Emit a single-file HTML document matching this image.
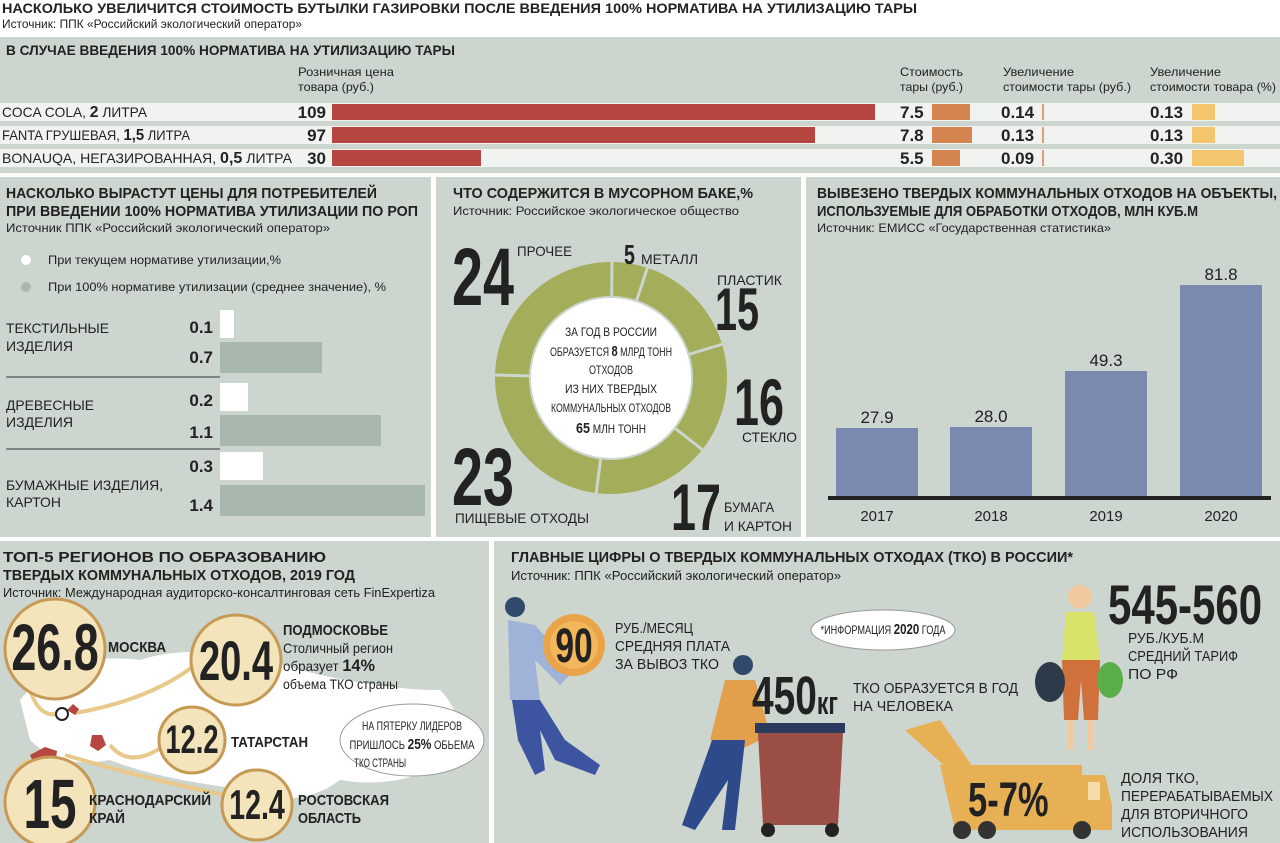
<!DOCTYPE html>
<html><head><meta charset="utf-8"><style>
html,body{margin:0;padding:0;background:#fff}
svg{display:block}
text{font-family:"Liberation Sans",sans-serif;fill:#222}
.b{font-weight:bold}
</style></head><body>
<svg width="1280" height="843" viewBox="0 0 1280 843" xmlns="http://www.w3.org/2000/svg">
<rect width="1280" height="843" fill="#fff"/>
<text x="2" y="13" class="b" font-size="14" textLength="915" lengthAdjust="spacingAndGlyphs">НАСКОЛЬКО УВЕЛИЧИТСЯ СТОИМОСТЬ БУТЫЛКИ ГАЗИРОВКИ ПОСЛЕ ВВЕДЕНИЯ 100% НОРМАТИВА НА УТИЛИЗАЦИЮ ТАРЫ</text>
<text x="2" y="28" font-size="12" fill="#333" textLength="300" lengthAdjust="spacingAndGlyphs">Источник: ППК «Российский экологический оператор»</text>
<rect x="0" y="37" width="1280" height="136" fill="#ccd5ce"/>
<rect x="0" y="177" width="431" height="360" fill="#ccd5ce"/>
<rect x="436" y="177" width="365" height="360" fill="#ccd5ce"/>
<rect x="806" y="177" width="474" height="360" fill="#ccd5ce"/>
<rect x="0" y="541" width="489" height="302" fill="#ccd5ce"/>
<rect x="494" y="541" width="786" height="302" fill="#ccd5ce"/>
<text x="6" y="55" class="b" font-size="14" textLength="449" lengthAdjust="spacingAndGlyphs">В СЛУЧАЕ ВВЕДЕНИЯ 100% НОРМАТИВА НА УТИЛИЗАЦИЮ ТАРЫ</text>
<g font-size="12" fill="#444">
<text x="298" y="76" textLength="96" lengthAdjust="spacingAndGlyphs">Розничная цена</text>
<text x="298" y="91" textLength="76" lengthAdjust="spacingAndGlyphs">товара (руб.)</text>
<text x="900" y="76" textLength="63" lengthAdjust="spacingAndGlyphs">Стоимость</text>
<text x="900" y="91" textLength="63" lengthAdjust="spacingAndGlyphs">тары (руб.)</text>
<text x="1003" y="76" textLength="71" lengthAdjust="spacingAndGlyphs">Увеличение</text>
<text x="1003" y="91" textLength="128" lengthAdjust="spacingAndGlyphs">стоимости тары (руб.)</text>
<text x="1150" y="76" textLength="71" lengthAdjust="spacingAndGlyphs">Увеличение</text>
<text x="1150" y="91" textLength="126" lengthAdjust="spacingAndGlyphs">стоимости товара (%)</text></g>
<rect x="0" y="103" width="1280" height="18" fill="#f1f3f1"/>
<rect x="0" y="126" width="1280" height="18" fill="#f1f3f1"/>
<rect x="0" y="149" width="1280" height="18" fill="#f1f3f1"/>
<text x="2" y="117" font-size="14" textLength="145" lengthAdjust="spacingAndGlyphs">COCA COLA, <tspan class="b" font-size="16">2</tspan> ЛИТРА</text>
<text x="2" y="140" font-size="14" textLength="188" lengthAdjust="spacingAndGlyphs">FANTA ГРУШЕВАЯ, <tspan class="b" font-size="16">1,5</tspan> ЛИТРА</text>
<text x="2" y="163" font-size="14" textLength="290" lengthAdjust="spacingAndGlyphs">BONAUQA, НЕГАЗИРОВАННАЯ, <tspan class="b" font-size="16">0,5</tspan> ЛИТРА</text>
<g font-size="17" class="b" text-anchor="end"><text x="326" y="118">109</text><text x="326" y="141">97</text><text x="326" y="164">30</text></g>
<rect x="332" y="104" width="543" height="16" fill="#b6463f"/>
<rect x="332" y="127" width="483" height="16" fill="#b6463f"/>
<rect x="332" y="150" width="149" height="16" fill="#b6463f"/>
<g font-size="17" class="b"><text x="900" y="118">7.5</text><text x="900" y="141">7.8</text><text x="900" y="164">5.5</text>
<text x="1001" y="118">0.14</text><text x="1001" y="141">0.13</text><text x="1001" y="164">0.09</text>
<text x="1150" y="118">0.13</text><text x="1150" y="141">0.13</text><text x="1150" y="164">0.30</text></g>
<rect x="932" y="104" width="38" height="16" fill="#d4844e"/><rect x="932" y="127" width="40" height="16" fill="#d4844e"/><rect x="932" y="150" width="28" height="16" fill="#d4844e"/>
<g stroke="#d4844e" stroke-width="1.5"><line x1="1043" y1="104" x2="1043" y2="120"/><line x1="1043" y1="127" x2="1043" y2="143"/><line x1="1043" y1="150" x2="1043" y2="166"/></g>
<rect x="1192" y="104" width="23" height="16" fill="#f3c66e"/><rect x="1192" y="127" width="23" height="16" fill="#f3c66e"/><rect x="1192" y="150" width="52" height="16" fill="#f3c66e"/>
<text x="6" y="198" class="b" font-size="15" textLength="371" lengthAdjust="spacingAndGlyphs">НАСКОЛЬКО ВЫРАСТУТ ЦЕНЫ ДЛЯ ПОТРЕБИТЕЛЕЙ</text>
<text x="6" y="216" class="b" font-size="15" textLength="412" lengthAdjust="spacingAndGlyphs">ПРИ ВВЕДЕНИИ 100% НОРМАТИВА УТИЛИЗАЦИИ ПО РОП</text>
<text x="6" y="232" font-size="12" fill="#444" textLength="324" lengthAdjust="spacingAndGlyphs">Источник ППК «Российский экологический оператор»</text>
<circle cx="26" cy="260" r="5" fill="#fff"/><text x="48" y="264" font-size="12" fill="#333" textLength="233" lengthAdjust="spacingAndGlyphs">При текущем нормативе утилизации,%</text>
<circle cx="26" cy="287" r="5" fill="#a9b8ae"/><text x="48" y="291" font-size="12" fill="#333" textLength="338" lengthAdjust="spacingAndGlyphs">При 100% нормативе утилизации (среднее значение), %</text>
<g font-size="14" fill="#333"><text x="6" y="333" textLength="103" lengthAdjust="spacingAndGlyphs">ТЕКСТИЛЬНЫЕ</text><text x="6" y="351" textLength="67" lengthAdjust="spacingAndGlyphs">ИЗДЕЛИЯ</text>
<text x="6" y="410" textLength="88" lengthAdjust="spacingAndGlyphs">ДРЕВЕСНЫЕ</text><text x="6" y="427" textLength="67" lengthAdjust="spacingAndGlyphs">ИЗДЕЛИЯ</text>
<text x="6" y="490" textLength="157" lengthAdjust="spacingAndGlyphs">БУМАЖНЫЕ ИЗДЕЛИЯ,</text><text x="6" y="507" textLength="55" lengthAdjust="spacingAndGlyphs">КАРТОН</text></g>
<g font-size="17" class="b" text-anchor="end"><text x="213" y="333">0.1</text><text x="213" y="363">0.7</text><text x="213" y="406">0.2</text><text x="213" y="438">1.1</text><text x="213" y="472">0.3</text><text x="213" y="511">1.4</text></g>
<rect x="220" y="310" width="14" height="28" fill="#fff"/><rect x="220" y="342" width="102" height="31" fill="#a9b8ae"/>
<rect x="220" y="383" width="28" height="28" fill="#fff"/><rect x="220" y="415" width="161" height="31" fill="#a9b8ae"/>
<rect x="220" y="452" width="43" height="28" fill="#fff"/><rect x="220" y="485" width="205" height="31" fill="#a9b8ae"/>
<g stroke="#333" stroke-width="1"><line x1="6" y1="377" x2="220" y2="377"/><line x1="6" y1="449" x2="220" y2="449"/></g>
<text x="453" y="198" class="b" font-size="15" textLength="300" lengthAdjust="spacingAndGlyphs">ЧТО СОДЕРЖИТСЯ В МУСОРНОМ БАКЕ,%</text>
<text x="453" y="215" font-size="12" fill="#444" textLength="286" lengthAdjust="spacingAndGlyphs">Источник: Российское экологическое общество</text>
<circle cx="611" cy="378" r="99" fill="none" stroke="#a3ad5a" stroke-width="34"/>
<g stroke="#ccd5ce" stroke-width="3">
<line x1="611" y1="378" x2="612" y2="260"/>
<line x1="611" y1="378" x2="648" y2="266"/>
<line x1="611" y1="378" x2="723" y2="344"/>
<line x1="611" y1="378" x2="704" y2="451"/>
<line x1="611" y1="378" x2="596" y2="495"/>
<line x1="611" y1="378" x2="495" y2="375"/>
</g>
<circle cx="611" cy="378" r="82" fill="#ccd5ce"/>
<circle cx="611" cy="378" r="80" fill="#fff"/>
<g font-size="12" text-anchor="middle"><text x="611" y="336" textLength="92" lengthAdjust="spacingAndGlyphs">ЗА ГОД В РОССИИ</text><text x="611" y="356" textLength="122" lengthAdjust="spacingAndGlyphs">ОБРАЗУЕТСЯ <tspan class="b" font-size="15">8</tspan> МЛРД ТОНН</text><text x="611" y="374" textLength="44" lengthAdjust="spacingAndGlyphs">ОТХОДОВ</text><text x="611" y="393" textLength="92" lengthAdjust="spacingAndGlyphs">ИЗ НИХ ТВЕРДЫХ</text><text x="611" y="412" textLength="120" lengthAdjust="spacingAndGlyphs">КОММУНАЛЬНЫХ ОТХОДОВ</text><text x="611" y="433" textLength="70" lengthAdjust="spacingAndGlyphs"><tspan class="b" font-size="15">65</tspan> МЛН ТОНН</text></g>
<g class="b">
<text transform="translate(452 305) scale(.68 1)" font-size="82">24</text>
<text transform="translate(715 330) scale(.66 1)" font-size="60">15</text>
<text transform="translate(734 425) scale(.68 1)" font-size="66">16</text>
<text transform="translate(452 505) scale(.68 1)" font-size="82">23</text>
<text transform="translate(671 530) scale(.68 1)" font-size="66">17</text></g>
<text transform="translate(624 264) scale(.7 1)" class="b" font-size="28">5</text>
<g font-size="14" fill="#333"><text x="517" y="256" textLength="55" lengthAdjust="spacingAndGlyphs">ПРОЧЕЕ</text><text x="641" y="264" textLength="57" lengthAdjust="spacingAndGlyphs">МЕТАЛЛ</text><text x="717" y="285" textLength="65" lengthAdjust="spacingAndGlyphs">ПЛАСТИК</text><text x="742" y="442" textLength="55" lengthAdjust="spacingAndGlyphs">СТЕКЛО</text><text x="455" y="523" textLength="134" lengthAdjust="spacingAndGlyphs">ПИЩЕВЫЕ ОТХОДЫ</text><text x="724" y="512" textLength="50" lengthAdjust="spacingAndGlyphs">БУМАГА</text><text x="724" y="531" textLength="68" lengthAdjust="spacingAndGlyphs">И КАРТОН</text></g>
<text x="817" y="198" class="b" font-size="15" textLength="460" lengthAdjust="spacingAndGlyphs">ВЫВЕЗЕНО ТВЕРДЫХ КОММУНАЛЬНЫХ ОТХОДОВ НА ОБЪЕКТЫ,</text>
<text x="817" y="216" class="b" font-size="15" textLength="381" lengthAdjust="spacingAndGlyphs">ИСПОЛЬЗУЕМЫЕ ДЛЯ ОБРАБОТКИ ОТХОДОВ, МЛН КУБ.М</text>
<text x="817" y="232" font-size="12" fill="#444" textLength="294" lengthAdjust="spacingAndGlyphs">Источник: ЕМИСС «Государственная статистика»</text>
<g fill="#7989b0"><rect x="836" y="428" width="82" height="70"/><rect x="950" y="427" width="82" height="71"/><rect x="1065" y="371" width="82" height="127"/><rect x="1180" y="285" width="82" height="213"/></g>
<rect x="828" y="496" width="443" height="4" fill="#222"/>
<g font-size="17" text-anchor="middle"><text x="877" y="423">27.9</text><text x="991" y="422">28.0</text><text x="1106" y="366">49.3</text><text x="1221" y="280">81.8</text>
<text x="877" y="521" font-size="15">2017</text><text x="991" y="521" font-size="15">2018</text><text x="1106" y="521" font-size="15">2019</text><text x="1221" y="521" font-size="15">2020</text></g>
<text x="3" y="562" class="b" font-size="15" textLength="323" lengthAdjust="spacingAndGlyphs">ТОП-5 РЕГИОНОВ ПО ОБРАЗОВАНИЮ</text>
<text x="3" y="580" class="b" font-size="15" textLength="352" lengthAdjust="spacingAndGlyphs">ТВЕРДЫХ КОММУНАЛЬНЫХ ОТХОДОВ, 2019 ГОД</text>
<text x="3" y="597" font-size="13" fill="#444" textLength="432" lengthAdjust="spacingAndGlyphs">Источник: Международная аудиторско-консалтинговая сеть FinExpertiza</text>
<path d="M20 700 Q60 650 140 660 Q200 640 300 670 Q380 690 440 690 Q470 720 450 760 Q400 790 340 780 Q300 810 250 790 Q160 780 110 760 Q60 770 30 740 Z" fill="#fff"/>
<g fill="none" stroke="#e8c98a" stroke-width="4"><path d="M30 690 Q40 720 60 713"/><path d="M75 713 Q150 700 195 665"/><path d="M110 745 Q130 770 165 745"/><path d="M30 760 Q10 770 15 790"/><path d="M65 755 Q150 780 225 795"/></g>
<path d="M30 755 l15 -8 l12 4 l-2 15 l-18 5 z M92 735 l10 0 l4 10 l-8 6 l-8 -5 z M67 710 l6 -6 l6 5 l-4 6 z" fill="#b6463f"/>
<circle cx="62" cy="714" r="6" fill="#fff" stroke="#222" stroke-width="2"/>
<g fill="#f4e4bb" stroke="#c69a55" stroke-width="3"><circle cx="55" cy="649" r="50"/><circle cx="236" cy="660" r="45"/><circle cx="192" cy="740" r="33"/><circle cx="50" cy="802" r="45"/><circle cx="257" cy="805" r="35"/></g>
<g class="b" fill="#222">
<text transform="translate(55 670) scale(.68 1)" font-size="66" text-anchor="middle">26.8</text>
<text transform="translate(236 680) scale(.68 1)" font-size="56" text-anchor="middle">20.4</text>
<text transform="translate(192 753) scale(.68 1)" font-size="40" text-anchor="middle">12.2</text>
<text transform="translate(50 828) scale(.68 1)" font-size="70" text-anchor="middle">15</text>
<text transform="translate(257 819) scale(.68 1)" font-size="42" text-anchor="middle">12.4</text></g>
<g class="b" font-size="15"><text x="108" y="652" textLength="58" lengthAdjust="spacingAndGlyphs">МОСКВА</text><text x="283" y="635" textLength="105" lengthAdjust="spacingAndGlyphs">ПОДМОСКОВЬЕ</text><text x="231" y="747" textLength="77" lengthAdjust="spacingAndGlyphs">ТАТАРСТАН</text><text x="89" y="805" textLength="122" lengthAdjust="spacingAndGlyphs">КРАСНОДАРСКИЙ</text><text x="89" y="823" textLength="36" lengthAdjust="spacingAndGlyphs">КРАЙ</text><text x="298" y="805" textLength="91" lengthAdjust="spacingAndGlyphs">РОСТОВСКАЯ</text><text x="298" y="823" textLength="63" lengthAdjust="spacingAndGlyphs">ОБЛАСТЬ</text></g>
<g font-size="14" fill="#333"><text x="283" y="653" textLength="110" lengthAdjust="spacingAndGlyphs">Столичный регион</text><text x="283" y="671" textLength="92" lengthAdjust="spacingAndGlyphs">образует <tspan class="b" font-size="17" fill="#222">14%</tspan></text><text x="283" y="689" textLength="115" lengthAdjust="spacingAndGlyphs">объема ТКО страны</text></g>
<ellipse cx="412" cy="740" rx="72" ry="36" fill="#fff" stroke="#999"/>
<g font-size="12" text-anchor="middle"><text x="412" y="730" textLength="100" lengthAdjust="spacingAndGlyphs">НА ПЯТЕРКУ ЛИДЕРОВ</text><text x="412" y="749" textLength="125" lengthAdjust="spacingAndGlyphs">ПРИШЛОСЬ <tspan class="b" font-size="15">25%</tspan> ОБЬЕМА</text><text x="380" y="767" textLength="52" lengthAdjust="spacingAndGlyphs">ТКО СТРАНЫ</text></g>
<text x="511" y="562" class="b" font-size="15" textLength="562" lengthAdjust="spacingAndGlyphs">ГЛАВНЫЕ ЦИФРЫ О ТВЕРДЫХ КОММУНАЛЬНЫХ ОТХОДАХ (ТКО) В РОССИИ*</text>
<text x="511" y="580" font-size="13" fill="#444" textLength="330" lengthAdjust="spacingAndGlyphs">Источник: ППК «Российский экологический оператор»</text>
<circle cx="515" cy="607" r="10" fill="#2f4a6a"/>
<path d="M508 620 L535 625 L575 670 L560 685 L535 660 L540 700 L510 700 Z" fill="#9fb3d8"/>
<path d="M512 700 L540 700 L565 740 L600 765 L595 775 L555 760 L540 730 L545 770 L535 775 L518 740 Z" fill="#3d55a0"/>
<circle cx="574" cy="645" r="31" fill="#e9a44a"/><circle cx="574" cy="645" r="24" fill="#f2b75a"/>
<text transform="translate(574 662) scale(.7 1)" class="b" font-size="48" text-anchor="middle" fill="#fff">90</text>
<g font-size="15" fill="#333"><text x="615" y="633" textLength="78" lengthAdjust="spacingAndGlyphs">РУБ./МЕСЯЦ</text><text x="615" y="651" textLength="115" lengthAdjust="spacingAndGlyphs">СРЕДНЯЯ ПЛАТА</text><text x="615" y="669" textLength="104" lengthAdjust="spacingAndGlyphs">ЗА ВЫВОЗ ТКО</text></g>
<ellipse cx="883" cy="630" rx="72" ry="20" fill="#fff" stroke="#999"/>
<text x="883" y="634" font-size="12" text-anchor="middle" textLength="125" lengthAdjust="spacingAndGlyphs">*ИНФОРМАЦИЯ <tspan class="b" font-size="15">2020</tspan> ГОДА</text>
<circle cx="743" cy="665" r="10" fill="#2f4a6a"/>
<path d="M725 680 L755 680 L770 735 L740 750 L710 740 Z" fill="#e3a04c"/>
<path d="M712 740 L745 740 L735 830 L722 830 L728 780 L695 830 L682 825 Z" fill="#2f4a8a"/>
<rect x="755" y="723" width="90" height="10" fill="#2a3a5c"/>
<path d="M758 733 L843 733 L838 825 L763 825 Z" fill="#9b4e46"/>
<circle cx="768" cy="830" r="7" fill="#222"/><circle cx="832" cy="830" r="7" fill="#222"/>
<text transform="translate(752 714) scale(.72 1)" class="b" font-size="54" fill="#3e5a5e">450<tspan font-size="32">кг</tspan></text>
<g font-size="15" fill="#333"><text x="853" y="693" textLength="165" lengthAdjust="spacingAndGlyphs">ТКО ОБРАЗУЕТСЯ В ГОД</text><text x="853" y="711" textLength="100" lengthAdjust="spacingAndGlyphs">НА ЧЕЛОВЕКА</text></g>
<circle cx="1080" cy="597" r="12" fill="#f0c9a0"/>
<path d="M1066 612 L1094 612 L1100 660 L1062 660 Z" fill="#d8e36a"/>
<path d="M1062 660 L1100 660 L1098 720 L1084 720 L1081 680 L1078 720 L1064 720 Z" fill="#d0703a"/>
<rect x="1068" y="720" width="6" height="30" fill="#f0c9a0"/><rect x="1087" y="720" width="6" height="30" fill="#f0c9a0"/>
<ellipse cx="1050" cy="682" rx="15" ry="20" fill="#2c3a4a"/><ellipse cx="1110" cy="680" rx="13" ry="18" fill="#5aae4a"/>
<text transform="translate(1108 624) scale(.75 1)" class="b" font-size="56" fill="#5d9a3e">545-560</text>
<g font-size="15" fill="#333"><text x="1128" y="643" textLength="76" lengthAdjust="spacingAndGlyphs">РУБ./КУБ.М</text><text x="1128" y="661" textLength="110" lengthAdjust="spacingAndGlyphs">СРЕДНИЙ ТАРИФ</text><text x="1128" y="679" textLength="50" lengthAdjust="spacingAndGlyphs">ПО РФ</text></g>
<path d="M905 730 L940 720 L975 770 L960 780 Z" fill="#e8b055"/>
<path d="M940 765 L1082 765 L1082 830 L955 830 Z" fill="#e8b055"/>
<path d="M1082 775 L1105 775 L1112 805 L1112 830 L1082 830 Z" fill="#e8b055"/>
<rect x="1088" y="782" width="12" height="18" fill="#f6dca6"/>
<g fill="#333"><circle cx="962" cy="830" r="9"/><circle cx="987" cy="830" r="9"/><circle cx="1082" cy="830" r="9"/></g>
<text transform="translate(968 816) scale(.72 1)" class="b" font-size="48" fill="#fff">5-7%</text>
<g font-size="15" fill="#333"><text x="1121" y="783" textLength="78" lengthAdjust="spacingAndGlyphs">ДОЛЯ ТКО,</text><text x="1121" y="801" textLength="152" lengthAdjust="spacingAndGlyphs">ПЕРЕРАБАТЫВАЕМЫХ</text><text x="1121" y="819" textLength="127" lengthAdjust="spacingAndGlyphs">ДЛЯ ВТОРИЧНОГО</text><text x="1121" y="837" textLength="127" lengthAdjust="spacingAndGlyphs">ИСПОЛЬЗОВАНИЯ</text></g>
</svg>
</body></html>
